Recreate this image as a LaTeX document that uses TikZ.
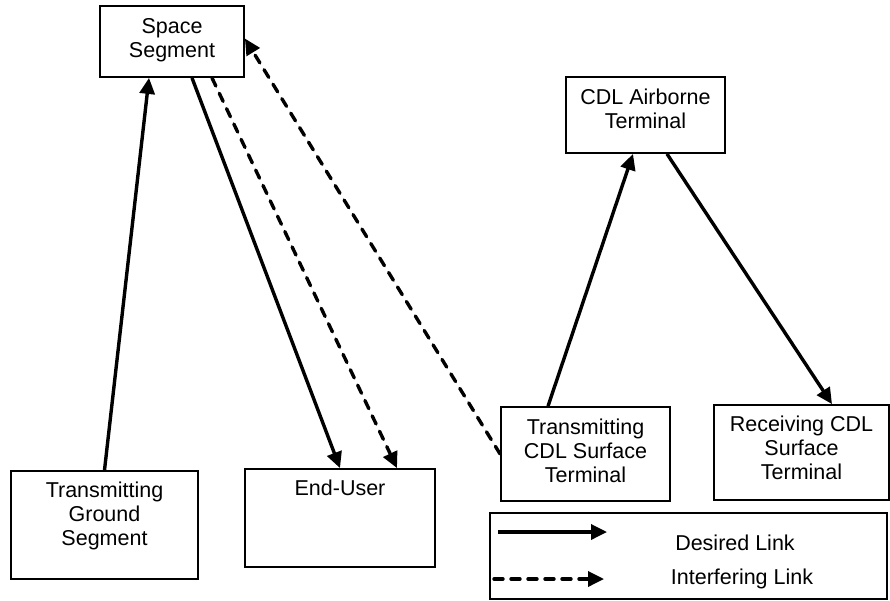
\documentclass[tikz,border=0pt]{standalone}
\usepackage{fontspec}
\setmainfont{Liberation Sans}
\usetikzlibrary{arrows.meta}
\begin{document}
\begin{tikzpicture}[x=1pt,y=-1pt,
  box/.style={draw=black, line width=1.8pt, rectangle, inner sep=0pt, fill=white},
  lbl/.style={anchor=north, align=center, font=\fontsize{21.5}{24}\selectfont, inner sep=0pt},
  leglbl/.style={anchor=center, font=\fontsize{21.5}{24}\selectfont, inner sep=0pt},
  desired/.style={line width=3.4pt, -{Triangle[length=16pt,width=15pt]}},
  interf/.style={line width=3.4pt, dash pattern=on 9pt off 8pt, line cap=round, -{Triangle[length=16pt,width=15pt]}}
]
\useasboundingbox[fill=white] (0,0) rectangle (890,600);

% boxes
\node[box, minimum width=144pt, minimum height=71pt] (ss) at (172,41.5) {};
\node[box, minimum width=159pt, minimum height=76pt] (cat) at (645.5,115) {};
\node[box, minimum width=187pt, minimum height=108pt] (gs) at (104.5,525) {};
\node[box, minimum width=190pt, minimum height=98pt] (eu) at (340,518) {};
\node[box, minimum width=169pt, minimum height=94pt] (tst) at (585.5,454) {};
\node[box, minimum width=175pt, minimum height=95pt] (rst) at (801.5,452.5) {};
\node[box, minimum width=397pt, minimum height=86pt] (leg) at (688.5,556) {};

% labels
\node[lbl] (ssl) at ([yshift=-13pt]ss.north) {Space\\Segment};
\node[lbl] (catl) at ([yshift=-13pt]cat.north) {CDL Airborne\\Terminal};
\node[lbl] (gsl) at ([yshift=-12pt]gs.north) {Transmitting\\Ground\\Segment};
\node[lbl] (eul) at ([yshift=-12pt]eu.north) {End-User};
\node[lbl] (tstl) at ([yshift=-13pt]tst.north) {Transmitting\\CDL Surface\\Terminal};
\node[lbl] (rstl) at ([yshift=-12pt]rst.north) {Receiving CDL\\Surface\\Terminal};

% connectors
\draw[desired] (gs.north) -- ([xshift=-23pt]ss.south);
\draw[desired] ([xshift=20pt]ss.south) -- (eu.north);
\draw[interf] ([xshift=40pt]ss.south) -- ([xshift=57pt]eu.north);
\draw[interf] (tst.west) -- ([yshift=3pt]ss.east);
\draw[desired] ([xshift=-37.5pt]tst.north) -- ([xshift=-12.5pt]cat.south);
\draw[desired] ([xshift=21.5pt]cat.south) -- ([xshift=30.5pt]rst.north);

% legend
\coordinate (d1) at (498,532);
\coordinate (d2) at (607,532);
\coordinate (i1) at (494,579);
\coordinate (i2) at (604,579);
\draw[desired] (d1) -- (d2);
\draw[interf] (i1) -- (i2);
\node[leglbl] (dl) at (735,543) {Desired Link};
\node[leglbl] (il) at (742,579) {Interfering Link};
\end{tikzpicture}
\end{document}
